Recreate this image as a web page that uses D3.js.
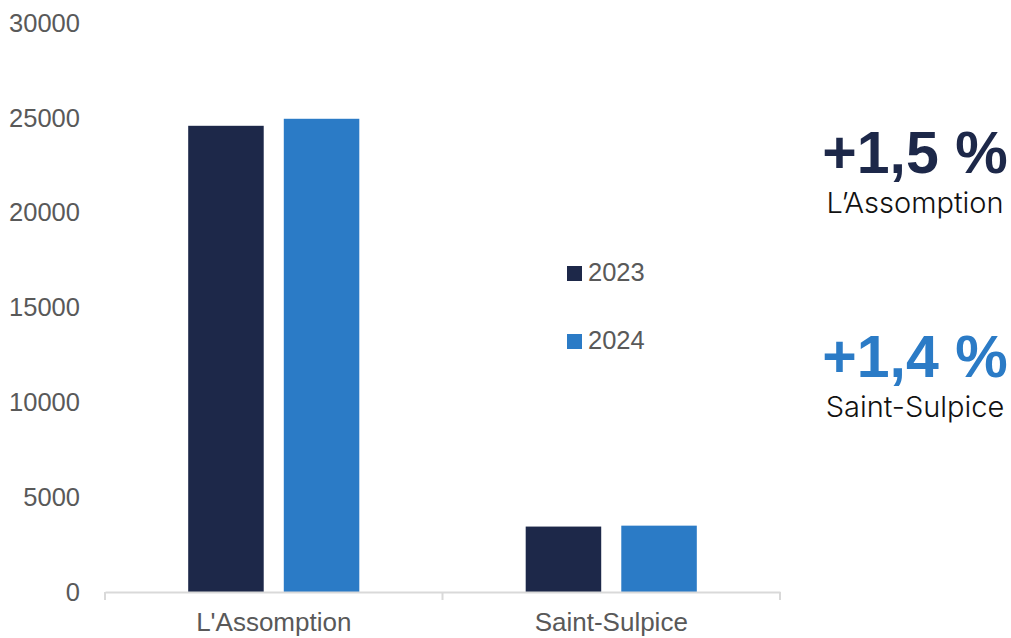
<!DOCTYPE html>
<html>
<head>
<meta charset="utf-8">
<script src="https://cdn.jsdelivr.net/npm/d3@7"></script>
<style>
  html, body { margin: 0; padding: 0; background: #fff; }
  svg { display: block; }
</style>
</head>
<body>
<div id="chart"></div>
<script>
// Data.
const categories = ["L'Assomption", "Saint-Sulpice"];
const years = ["2023", "2024"];
const values2023 = [24580, 3450];
const values2024 = [24950, 3498];
const yTicks = [0, 5000, 10000, 15000, 20000, 25000, 30000];
const changeLabels = ["+1,5 %", "+1,4 %"];
const changeNames = ["L\u2019Assomption", "Saint-Sulpice"];

const colors = {"2023": "#1d2849", "2024": "#2b7bc6"};

const width = 1011;
const height = 638;
const margin = {top: 23, right: 231, bottom: 46, left: 105};
const labelFont = "Liberation Sans, Arial, sans-serif";

const svg = d3.select("#chart")
    .append("svg")
    .attr("width", width)
    .attr("height", height);

const rows = categories.map((c, i) => ({
    category: c,
    values: [{year: "2023", value: values2023[i]}, {year: "2024", value: values2024[i]}]
}));

// Scales.
const x = d3.scaleBand().domain(categories).range([margin.left, width - margin.right]).padding(0);
const groupWidth = x.bandwidth() * 0.507;
const xInner = d3.scaleBand().domain(years).range([0, groupWidth]).paddingInner(0.21);
const y = d3.scaleLinear().domain([0, 30000]).range([height - margin.bottom, margin.top]);

// Bars
const groups = svg.selectAll("g.group")
    .data(rows)
    .enter()
    .append("g")
    .attr("class", "group")
    .attr("transform", d => `translate(${x(d.category) + (x.bandwidth() - groupWidth) / 2},0)`);

groups.selectAll("rect")
    .data(d => d.values)
    .enter()
    .append("rect")
    .attr("x", d => xInner(d.year))
    .attr("y", d => y(d.value))
    .attr("width", xInner.bandwidth())
    .attr("height", d => y(0) - y(d.value))
    .attr("fill", d => colors[d.year]);

// Y axis (labels only).
const yAxis = svg.append("g")
    .attr("transform", `translate(${margin.left - 25},0)`)
    .call(d3.axisLeft(y).tickValues(yTicks).tickFormat(d3.format("d")).tickSize(0).tickPadding(0));
yAxis.select(".domain").remove();
yAxis.selectAll("text")
    .attr("font-family", labelFont)
    .attr("font-size", "25.5px")
    .attr("fill", "#595959");

// X axis.
const xAxis = svg.append("g")
    .attr("transform", `translate(0,${y(0)})`)
    .call(d3.axisBottom(x).tickSize(0).tickPadding(21));
xAxis.select(".domain").attr("stroke", "#d9d9d9").attr("stroke-width", 2);
xAxis.selectAll("text")
    .attr("font-family", labelFont)
    .attr("font-size", "26px")
    .attr("fill", "#595959");

// Category separators.
const seps = [margin.left].concat(categories.map(c => x(c) + x.bandwidth()));
svg.selectAll("line.sep")
    .data(seps)
    .enter()
    .append("line")
    .attr("class", "sep")
    .attr("x1", d => d).attr("x2", d => d)
    .attr("y1", y(0)).attr("y2", y(0) + 8)
    .attr("stroke", "#d9d9d9")
    .attr("stroke-width", 2);

// Legend
const legend = svg.selectAll("g.legend")
    .data(years)
    .enter()
    .append("g")
    .attr("class", "legend")
    .attr("transform", (d, i) => `translate(567,${266 + i * 68})`);

legend.append("rect")
    .attr("width", 15)
    .attr("height", 15)
    .attr("fill", d => colors[d]);

legend.append("text")
    .attr("x", 21)
    .attr("y", 15)
    .attr("font-family", labelFont)
    .attr("font-size", "25.5px")
    .attr("fill", "#595959")
    .text(d => d);

// Change annotations on the right.
const noteX = 915;
const noteY = [173, 377];
changeLabels.forEach((lab, i) => {
    svg.append("text")
        .attr("x", noteX)
        .attr("y", noteY[i])
        .attr("text-anchor", "middle")
        .attr("font-family", labelFont)
        .attr("font-weight", 700)
        .attr("font-size", "59px")
        .attr("fill", colors[years[i]])
        .text(lab);

    svg.append("text")
        .attr("x", noteX)
        .attr("y", noteY[i] + 40)
        .attr("text-anchor", "middle")
        .attr("font-family", "Inter, Roboto, sans-serif")
        .attr("font-weight", 300)
        .attr("font-size", "29px")
        .attr("fill", "#111")
        .text(changeNames[i]);
});
</script>
</body>
</html>
